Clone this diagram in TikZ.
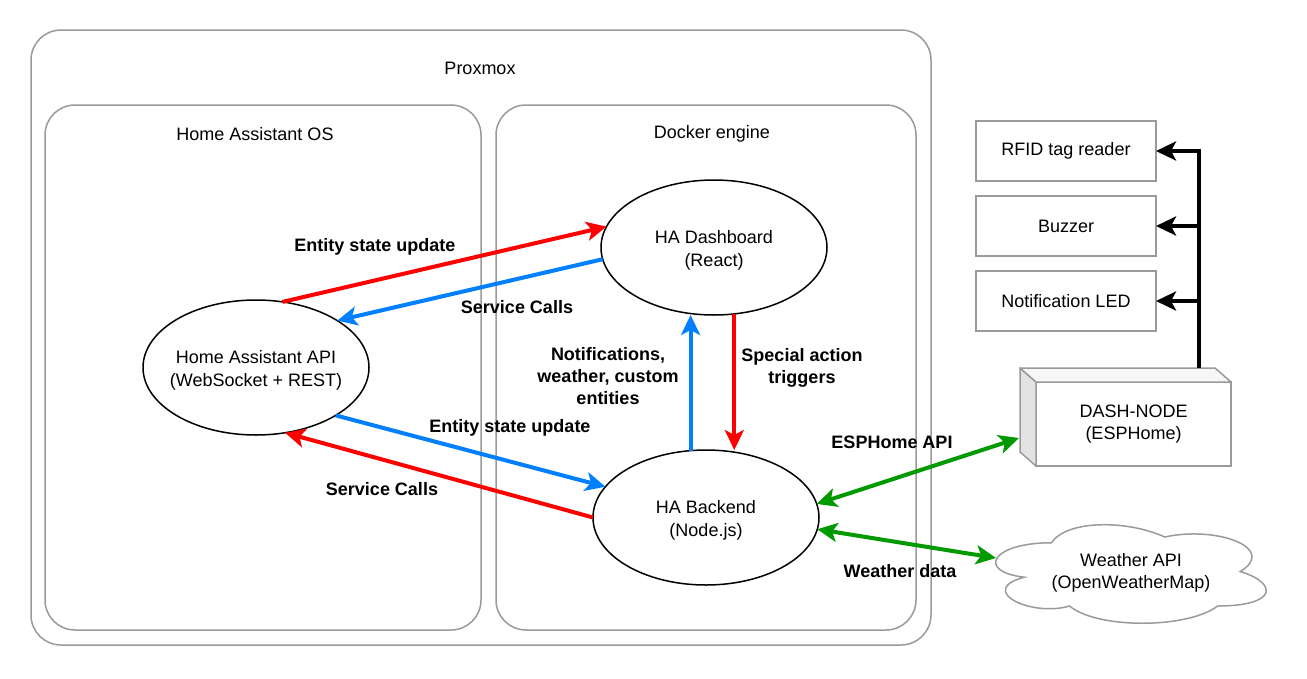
\documentclass[tikz,border=0pt]{standalone}
\usepackage{fontspec}
\setmainfont{Liberation Sans}
\usetikzlibrary{arrows.meta,shapes.geometric,calc}
\definecolor{cgray}{HTML}{9A9A9A}
\definecolor{cred}{HTML}{FF0000}
\definecolor{cblue}{HTML}{007FFF}
\definecolor{cgreen}{HTML}{009900}
\begin{document}
\begin{tikzpicture}[x=1pt,y=-1pt,
  every node/.style={font=\fontsize{18}{22.5}\selectfont, align=center, inner sep=0pt, outer sep=0pt},
  container/.style={draw=cgray, line width=1.5pt, rounded corners=30pt},
  ell/.style={ellipse, draw=black, line width=1.5pt, fill=white, minimum width=226pt, minimum height=135pt},
  inner/.style={yshift=-3pt},
  part/.style={rectangle, draw=cgray, line width=1.5pt, fill=white, minimum width=180pt, minimum height=60pt},
  flow/.style={line width=4pt, -{Stealth[length=20pt,width=19pt,inset=5pt]}},
  biflow/.style={line width=4pt, {Stealth[length=20pt,width=19pt,inset=5pt]}-{Stealth[length=20pt,width=19pt,inset=5pt]}},
  lbl/.style={font=\bfseries\fontsize{18}{22}\selectfont},
]
\useasboundingbox[fill=white] (0,0) rectangle (1307,678);

% containers
\draw[container] (31,30) rectangle (931,645);
\node (lproxmox) at (480,68) {Proxmox};
\draw[container] (45,105) rectangle (481,630);
\node (lhaos) at (255,134) {Home Assistant OS};
\draw[container] (496,105) rectangle (916,630);
\node (ldocker) at (712,134) {Docker engine};

% cloud
\draw[cgray, line width=1.5pt, fill=white]
  (1051.5,542.75) .. controls (991.1,542.75) and (976,571.5) .. (1024.3,577.25)
  .. controls (976,589.9) and (1030.4,617.5) .. (1069.6,606)
  .. controls (1096.8,629) and (1187.4,629) .. (1217.6,606)
  .. controls (1278,606) and (1278,583) .. (1240.25,571.5)
  .. controls (1278,548.5) and (1217.6,525.5) .. (1164.75,537)
  .. controls (1127,519.75) and (1066.6,519.75) .. (1051.5,542.75) -- cycle;
\node (weather) at (1131,573) {Weather API\\(OpenWeatherMap)};
\coordinate (cloudL) at (996,558);

% parts
\node[part] (rfid) at (1066,151) {RFID tag reader};
\node[part] (buzz) at (1066,226) {Buzzer};
\node[part] (led) at (1066,301) {Notification LED};

% cube DASH-NODE
\node[rectangle, draw=cgray, line width=1.5pt, fill=white, minimum width=195pt, minimum height=84pt] (esp) at (1133.5,424) {DASH-NODE\\(ESPHome)};
\draw[cgray, line width=1.5pt, fill=gray!22, line join=round] (esp.north west) -- ++(-16,-14) -- ++(0,84) -- (esp.south west) -- cycle;
\draw[cgray, line width=1.5pt, fill=gray!7, line join=round] (esp.north west) -- ++(-16,-14) -- ++(195,0) -- (esp.north east) -- cycle;
\coordinate (bus) at (1199,368);
\coordinate (espL) at (1019,438);

% bus lines
\draw[line width=4pt, line join=miter, -{Stealth[length=20pt,width=19pt,inset=5pt]}] (bus) -- (bus |- rfid.east) -- (rfid.east);
\draw[flow] (bus |- buzz.east) -- (buzz.east);
\draw[flow] (bus |- led.east) -- (led.east);

% ellipses
\node[ell, label={[inner, name=apitxt]center:Home Assistant API\\(WebSocket + REST)}] (api) at (256,367.5) {};
\node[ell, label={[inner, name=dashtxt]center:HA Dashboard\\(React)}] (dashb) at (714,247.5) {};
\node[ell, label={[inner, name=backtxt]center:HA Backend\\(Node.js)}] (back) at (706,517.5) {};

% flows
\draw[flow, cred] (api.68.6) -- (dashb.169.9);
\draw[flow, cblue] (dashb.186) -- (api.30.4);
\draw[flow, cblue] (api.-31) -- (back.163.5);
\draw[flow, cred] (back.180) -- (api.-66);
\draw[flow, cblue] (back.103.3) -- (back.103.3 |- dashb.south);
\draw[flow, cred] (dashb.287) -- (dashb.287 |- back.north);
\draw[biflow, cgreen] (back.7.9) -- (espL);
\draw[biflow, cgreen] (back.-6.5) -- (cloudL);

% labels
\node[lbl] (l1) at (375,247) {Entity state update};
\node[lbl] (l2) at (517,307) {Service Calls};
\node[lbl] (l3) at (608,376) {Notifications,\\weather, custom\\entities};
\node[lbl] (l4) at (802,368) {Special action\\triggers};
\node[lbl] (l5) at (510,428) {Entity state update};
\node[lbl] (l6) at (382,489) {Service Calls};
\node[lbl] (l7) at (892,442) {ESPHome API};
\node[lbl] (l8) at (900,571) {Weather data};
\end{tikzpicture}
\end{document}
